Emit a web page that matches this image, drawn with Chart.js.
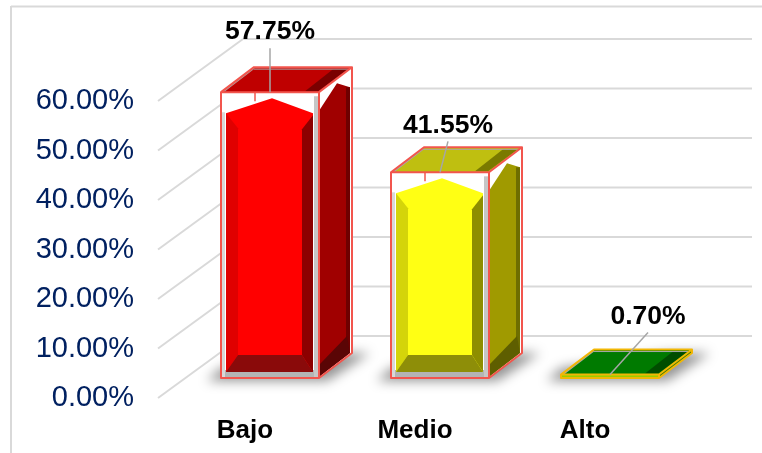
<!DOCTYPE html>
<html>
<head>
<meta charset="utf-8">
<script src="https://cdn.jsdelivr.net/npm/chart.js@4"></script>
<style>
  body { margin: 0; background: #fff; }
  canvas { display: block; }
</style>
</head>
<body>
<canvas id="niveles" width="762" height="453"></canvas>
<script>
const categorias = ['Bajo', 'Medio', 'Alto'];
const porcentajes = [57.75, 41.55, 0.70];
const marcasEje = [0, 10, 20, 30, 40, 50, 60];

// colour sets of each block
const paletas = [
  { borde: '#f2554d', frente: '#ff0000', izq: '#e00000', der: '#8c0000', base: '#8a0a0a',
    lado: '#a00000', ladoOsc: '#5a0505', tira: '#6e0000', tapa: '#bf0000', tapaOsc: '#7a0000' },
  { borde: '#f2554d', frente: '#ffff14', izq: '#d4d40a', der: '#8e8e00', base: '#8e8e08',
    lado: '#a09a00', ladoOsc: '#5e5e00', tira: '#6e6e00', tapa: '#bfbf10', tapaOsc: '#7a7a00' },
  { borde: '#f2b705', frente: '#9acd00', izq: '#007a00', der: '#007a00', base: '#007a00',
    lado: '#3d7a00', ladoOsc: '#004d00', tira: '#004d00', tapa: '#007a00', tapaOsc: '#004d00' }
];

// where each value label sits relative to the front top of its block
const rotuloDx = [0, 8, 38];
const rotuloDy = [-60, -47, -58];

// wall depth and the gap between wall front and block front
const paredX = 85, paredY = 62;
const huecoX = 25, huecoY = 20;
const fondoX = 33, fondoY = 25;
const finGrid = 752;

function poly(ctx, pts, fill) {
  ctx.beginPath();
  pts.forEach((p, i) => i ? ctx.lineTo(p[0], p[1]) : ctx.moveTo(p[0], p[1]));
  ctx.closePath();
  ctx.fillStyle = fill;
  ctx.fill();
}

function linea(ctx, x1, y1, x2, y2, color, ancho) {
  ctx.beginPath();
  ctx.moveTo(x1, y1);
  ctx.lineTo(x2, y2);
  ctx.strokeStyle = color;
  ctx.lineWidth = ancho;
  ctx.stroke();
}

function sombra(ctx, x0, x1, yb) {
  ctx.save();
  ctx.filter = 'blur(6px)';
  poly(ctx, [[x0 - 14, yb + 3], [x1 + 8, yb + 3], [x1 + fondoX + 18, yb - fondoY], [x1 + 10, yb - fondoY], [x0, yb - 10]],
    'rgba(0,0,0,0.42)');
  ctx.restore();
}

function bloque(ctx, x0, x1, yt, yb, c) {
  const dx = fondoX, dy = fondoY;
  const alto = yb - yt;
  const xm = (x0 + x1) / 2;

  // glass box interior
  poly(ctx, [[x0, yt], [x1, yt], [x1, yb], [x0, yb]], '#fff');
  poly(ctx, [[x1, yt], [x1 + dx, yt - dy], [x1 + dx, yb - dy], [x1, yb]], '#fff');

  if (alto > 30) {
    // right side of the inner block
    const ladoTop = [[x1 + 1, yt + 17], [x1 + 18, yt - 9], [x1 + dx - 2, yt - 5]];
    poly(ctx, ladoTop.concat([[x1 + dx - 2, yb - dy], [x1 + 1, yb - 2]]), c.lado);
    poly(ctx, [[x1 + dx - 6, yt - 5], [x1 + dx - 2, yt - 5], [x1 + dx - 2, yb - dy], [x1 + dx - 6, yb - dy - 14]], c.tira);
    poly(ctx, [[x1 + 1, yb - 2], [x1 + 1, yb - 14], [x1 + dx - 5, yb - dy - 17], [x1 + dx - 2, yb - dy]], c.ladoOsc);

    // gray floor and inner edge of the front
    poly(ctx, [[x0 + 1, yb - 8], [x1, yb - 8], [x1, yb], [x0 + 1, yb]], '#b4b4b4');
    poly(ctx, [[x1 - 5, yt + 4], [x1 - 1, yt + 4], [x1 - 1, yb], [x1 - 5, yb]], '#c6c6c6');
    poly(ctx, [[x0 + 1, yt + 20], [x0 + 4, yt + 20], [x0 + 4, yb], [x0 + 1, yb]], '#d8d8d8');

    // bevelled front of the inner block
    const l = x0 + 5, r = x1 - 6, il = x0 + 17, ir = x1 - 17;
    const sh = yt + 21, cima = yt + 6, bajo = yb - 6, ib = yb - 23;
    poly(ctx, [[l, sh], [xm + 2, cima], [r, sh], [r, bajo], [l, bajo]], c.frente);
    poly(ctx, [[l, sh], [il, sh + 15], [il, ib], [l, bajo]], c.izq);
    poly(ctx, [[r, sh + 2], [ir, sh + 16], [ir, ib], [r, bajo]], c.der);
    poly(ctx, [[l, bajo], [il, ib], [ir, ib], [r, bajo]], c.base);
    linea(ctx, x0 + dx + 1, yt, x0 + dx + 1, yt + 9, c.borde, 1.5);
  } else {
    // flat block: only a thin sliver shows on the front and side
    poly(ctx, [[x0 + 1, yt], [x1, yt], [x1, yb], [x0 + 1, yb]], c.frente);
    poly(ctx, [[x1, yt], [x1 + dx, yt - dy], [x1 + dx, yb - dy], [x1, yb]], c.lado);
  }

  // top face
  const a = [x0, yt], b = [x1, yt], e = [x1 + dx, yt - dy], d = [x0 + dx, yt - dy];
  poly(ctx, [a, b, e, d], c.tapa);
  poly(ctx, [[x1 - 14, yt - 1], [x1 - 1, yt - 1], [x1 + dx - 4, yt - dy + 2], [x1 + dx - 19, yt - dy + 2]], c.tapaOsc);
  linea(ctx, x0 + 3, yt - 1, x0 + dx, yt - dy + 1, '#a8a8a8', 1.5);
  linea(ctx, x0 + dx, yt - dy + 2, x1 + dx - 4, yt - dy + 2, '#a8a8a8', 1);

  // glass outline
  ctx.lineJoin = 'round';
  ctx.strokeStyle = c.borde;
  ctx.lineWidth = 2;
  ctx.beginPath();
  ctx.rect(x0, yt, x1 - x0, yb - yt);
  ctx.moveTo(x0, yt); ctx.lineTo(d[0], d[1]); ctx.lineTo(e[0], e[1]); ctx.lineTo(b[0], b[1]);
  ctx.moveTo(e[0], e[1]); ctx.lineTo(x1 + dx, yb - dy); ctx.lineTo(x1, yb);
  ctx.stroke();
}

// back wall, side wall and frame go under the bars
const paredes = {
  id: 'paredes',
  beforeDatasetsDraw(chart) {
    const ctx = chart.ctx, y = chart.scales.y, left = chart.chartArea.left;
    const gris = '#d9d9d9';
    linea(ctx, 11, 6.5, 762, 6.5, gris, 2);
    linea(ctx, 11, 6, 11, 453, gris, 2);
    marcasEje.forEach(v => {
      const py = y.getPixelForValue(v);
      linea(ctx, left - 2, py, left - 2 + paredX, py - paredY, gris, 2);
      linea(ctx, left - 2 + paredX, py - paredY, finGrid, py - paredY, gris, 2);
    });
  }
};

// the 3D blocks are drawn from the bar elements laid out by the chart
const bloques = {
  id: 'bloques',
  afterDatasetsDraw(chart) {
    const ctx = chart.ctx;
    const barras = chart.getDatasetMeta(0).data;
    barras.forEach(b => {
      const x0 = b.x - b.width / 2 + huecoX, x1 = b.x + b.width / 2 + huecoX;
      sombra(ctx, x0, x1, b.base - huecoY);
    });
    barras.forEach((b, i) => {
      const x0 = b.x - b.width / 2 + huecoX, x1 = b.x + b.width / 2 + huecoX;
      bloque(ctx, x0, x1, b.y - huecoY, b.base - huecoY, paletas[i]);
    });
    // leader lines and value labels
    barras.forEach((b, i) => {
      const xc = b.x + huecoX, yt = b.y - huecoY;
      const lx = xc + rotuloDx[i], ly = yt + rotuloDy[i];
      linea(ctx, lx, ly + 16, xc, yt, '#a6a6a6', 1.5);
      ctx.fillStyle = '#000';
      ctx.font = 'bold 26.5px "Liberation Sans"';
      ctx.textAlign = 'center';
      ctx.textBaseline = 'middle';
      ctx.fillText(porcentajes[i].toFixed(2) + '%', lx, ly);
    });
  }
};

new Chart(document.getElementById('niveles'), {
  type: 'bar',
  data: {
    labels: categorias,
    datasets: [{
      data: porcentajes,
      backgroundColor: 'rgba(0,0,0,0)',
      barThickness: 98
    }]
  },
  options: {
    responsive: false,
    animation: false,
    layout: { padding: { top: 101, right: 92, bottom: 0, left: 0 } },
    plugins: { legend: { display: false }, tooltip: { enabled: false } },
    scales: {
      x: {
        grid: { display: false, drawTicks: false },
        border: { display: false },
        afterFit: s => { s.height = 55; },
        ticks: {
          padding: 17,
          color: '#000',
          font: { family: 'Liberation Sans', size: 26, weight: 'bold' }
        }
      },
      y: {
        min: 0,
        max: 60,
        grid: { display: false, drawTicks: false },
        border: { display: false },
        afterFit: s => { s.width = 160; },
        ticks: {
          stepSize: 10,
          padding: 26,
          color: '#002060',
          font: { family: 'Liberation Sans', size: 29 },
          callback: v => v.toFixed(2) + '%'
        }
      }
    }
  },
  plugins: [paredes, bloques]
});
</script>
</body>
</html>
